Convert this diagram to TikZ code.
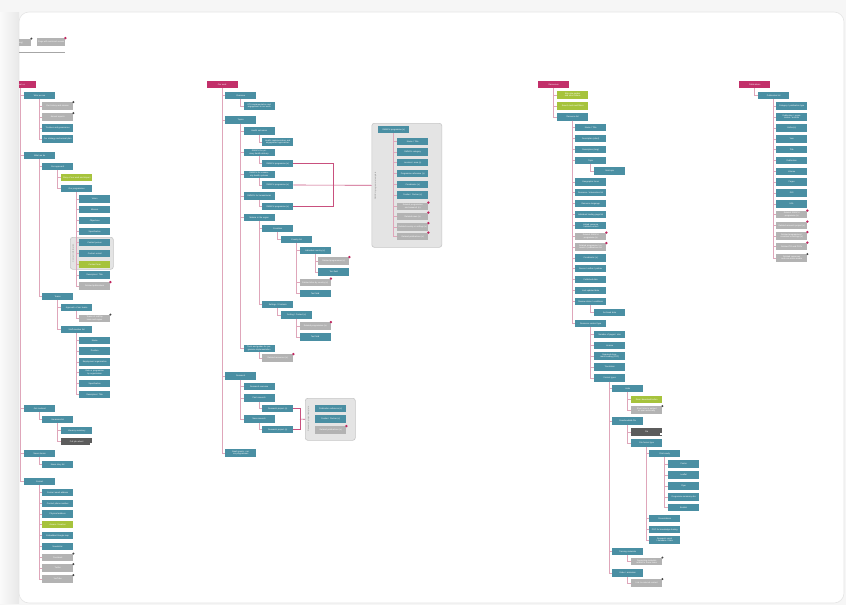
\documentclass[tikz,border=0pt]{standalone}
\usepackage{fontspec}
\setmainfont{Liberation Sans}
\definecolor{tealc}{HTML}{4A8FA3}
\definecolor{pinkh}{HTML}{C2306A}
\definecolor{greenc}{HTML}{A6C33C}
\definecolor{greyc}{HTML}{B3B3B3}
\definecolor{darkc}{HTML}{5C5C5C}
\definecolor{treec}{HTML}{DFA6BA}
\definecolor{linkc}{HTML}{C9507E}
\definecolor{grpfill}{HTML}{E4E4E4}
\definecolor{grpline}{HTML}{C6C6C6}
\definecolor{dotpink}{HTML}{C0245E}
\definecolor{dotdark}{HTML}{444444}
\definecolor{bgc}{HTML}{F6F6F6}
\tikzset{
 nb/.style={rectangle, anchor=west, minimum width=31pt, minimum height=7.5pt, inner sep=0.3pt, text width=29pt, align=center, text=white, font=\fontsize{2.1}{2.4}\selectfont},
 tl/.style={nb, fill=tealc},
 gr/.style={nb, fill=greyc},
 gn/.style={nb, fill=greenc},
 dk/.style={nb, fill=darkc},
 hd/.style={nb, fill=pinkh},
 grp/.style={rectangle, anchor=north west, rounded corners=2.5pt, fill=grpfill, draw=grpline, line width=0.6pt, inner sep=0},
 grptext/.style={rotate=90, text=black!45, font=\fontsize{2.1}{2.4}\selectfont},
 tree/.style={draw=treec, line width=0.6pt},
 link/.style={draw=linkc, line width=0.6pt},
}
\newcommand\edg[2]{\draw[tree] (#1.south) |- (#2.west);}
\newcommand\pdt[1]{\fill[dotpink] (#1.north east) circle (1.3pt);}
\newcommand\kdt[1]{\fill[dotdark] (#1.north east) circle (1.1pt);}
\newcommand\icn[1]{\fill[white] ([shift={(-2.6pt,0.9pt)}]#1.south east) rectangle ++(1.8pt,1.8pt);}
\begin{document}
\begin{tikzpicture}[x=1pt,y=-1pt]
\useasboundingbox (0,0) rectangle (846,605);
\fill[bgc] (0,0) rectangle (846,605);
\shade[left color=black!2, right color=black!9] (0,12) rectangle (19,603);
\draw[fill=white, draw=black!10, line width=0.6pt, rounded corners=10pt] (19,12) rectangle (844,603);
\begin{scope}
\clip[rounded corners=10pt] (19,12) rectangle (844,603);
% ---------- legend ----------
\node[gr] (L1) at (0,42.5) {Page (existing)};
\node[gr, minimum width=28pt, text width=26pt] (L2) at (37,42) {Page with restricted access};
\kdt{L1} \pdt{L2}
\coordinate (LL) at (0,52); \coordinate (LR) at (65,52);
\draw[draw=black!35, line width=0.8pt] (LL) -- (LR);
% ---------- column 1 ----------
\node[hd] (H1) at (5,84.5) {About us};
\node[tl] (A1) at (24,95.5) {Who we are};
\node[gr] (A1a) at (42,106) {Our history and mission};
\node[gr] (A1b) at (42,117) {Annual reports};
\node[tl] (A1c) at (42,128) {Trustees and governance};
\node[tl] (A1d) at (42,139) {Our strategy and annual plan};
\kdt{A1a} \kdt{A1b}
\node[tl] (A2) at (24,155.5) {What we do};
\node[tl] (A2a) at (42,166.5) {Our approach};
\node[gn] (A2a1) at (61,177.5) {Story of our work and impact};
\node[tl] (A2a2) at (61,188.5) {Our programmes};
\node[grp, minimum width=43pt, minimum height=32pt] (G0) at (70,237) {};
\node[grptext] (G0t) at (73,253) {Contact information};
\node[tl] (P1) at (79,199) {Vision};
\node[tl] (P2) at (79,209.5) {Mission};
\node[tl] (P3) at (79,220.5) {Objectives};
\node[tl] (P4) at (79,231.5) {Specification};
\node[tl] (P5) at (79,242.5) {Contact person};
\node[tl] (P6) at (79,253.5) {Contact e-mail};
\node[gn] (P7) at (79,264.5) {Contact form};
\node[tl] (P8) at (79,275) {Description / Title};
\node[gr] (P9) at (79,286) {Related publications};
\pdt{P9}
\node[tl] (A2b) at (42,296.5) {Teams};
\node[tl] (A2b1) at (61,307.5) {Approach of our teams};
\node[gr] (A2b1a) at (79,318.5) {Teams of staff by team and region};
\kdt{A2b1a}
\node[tl] (A2b2) at (61,329.5) {Staff member list};
\node[tl] (Q1) at (79,340.5) {Name};
\node[tl] (Q2) at (79,351) {Position};
\node[tl] (Q3) at (79,362) {Employment organisation};
\node[tl] (Q4) at (79,372.5) {Role or programme by organisation};
\node[tl] (Q5) at (79,383.5) {Specification};
\node[tl] (Q6) at (79,394.5) {Description / Title};
\node[tl] (A3) at (24,408.5) {Get involved};
\node[tl] (A3a) at (42,419.5) {Vacancies list};
\node[tl] (A3a1) at (61,430.5) {Vacancy summary};
\node[dk] (A3a2) at (61,441.5) {Full job advert};
\icn{A3a2}
\node[tl] (A4) at (24,453.5) {News stories};
\node[tl] (A4a) at (42,464.5) {News story list};
\node[tl] (A5) at (24,481.5) {Contact};
\node[tl] (K1) at (42,492.5) {Contact email address};
\node[tl] (K2) at (42,503.5) {Contact phone number};
\node[tl] (K3) at (42,514) {Physical address};
\node[gn] (K4) at (42,524.5) {Access / location};
\node[tl] (K5) at (42,535.5) {Embedded Google map};
\node[tl] (K6) at (42,546.5) {Newsletter};
\node[gr] (K7) at (42,557.5) {Facebook};
\node[gr] (K8) at (42,568) {Twitter};
\node[gr] (K9) at (42,579) {YouTube};
\kdt{K7} \kdt{K8} \kdt{K9}
\foreach \c in {A1,A2,A3,A4,A5} {\edg{H1}{\c}}
\foreach \c in {A1a,A1b,A1c,A1d} {\edg{A1}{\c}}
\edg{A2}{A2a} \edg{A2}{A2b}
\edg{A2a}{A2a1} \edg{A2a}{A2a2}
\foreach \c in {P1,P2,P3,P4,P5,P6,P7,P8,P9} {\edg{A2a2}{\c}}
\edg{A2b}{A2b1} \edg{A2b}{A2b2} \edg{A2b1}{A2b1a}
\foreach \c in {Q1,Q2,Q3,Q4,Q5,Q6} {\edg{A2b2}{\c}}
\edg{A3}{A3a} \edg{A3a}{A3a1} \edg{A3a}{A3a2}
\edg{A4}{A4a}
\foreach \c in {K1,K2,K3,K4,K5,K6,K7,K8,K9} {\edg{A5}{\c}}
% ---------- column 2 ----------
\node[hd] (H2) at (206.5,84.5) {Our work};
\node[tl] (B1) at (225,95.5) {Overview};
\node[tl] (B1a) at (243.5,106) {KTS implementation and engagement in our work};
\node[tl] (B2) at (225,120) {Topics};
\node[tl] (B2a) at (243.5,131) {Health outcomes};
\node[tl] (B2a1) at (262,142) {Health implementation and engagement approaches};
\node[tl] (B2b) at (243.5,152.5) {RMNCH for primary health delivery};
\node[tl] (B2b1) at (262,163.5) {RMNCH programme (x)};
\node[tl] (B2c) at (243.5,174.5) {RMNCH for community health systems};
\node[tl] (B2c1) at (262,185) {RMNCH programme (x)};
\node[tl] (B2d) at (243.5,196) {RMNCH for humanitarian};
\node[tl] (B2d1) at (262,206.5) {RMNCH programme (x)};
\node[tl] (B2e) at (243.5,217.5) {Malaria in the region};
\node[tl] (B2e1) at (262,228.5) {Countries};
\node[tl] (B2e1a) at (281,239.5) {Country list};
\node[tl] (B2e1a1) at (299.5,250.5) {Individual country (x)};
\node[gr] (B2e1a1a) at (318,261) {Related programmes (x)};
\node[tl] (B2e1a1b) at (318,272) {Text field};
\node[gr] (B2e1b) at (299.5,282.5) {Related sites by country (x)};
\node[tl] (B2e1c) at (299.5,293.5) {Text field};
\node[tl] (B2e2) at (262,304.5) {Settings / Contexts};
\node[tl] (B2e2a) at (281,315) {Setting / Context (x)};
\node[gr] (B2e2a1) at (299.5,326) {Related programmes (x)};
\node[tl] (B2e2a2) at (299.5,337) {Text field};
\node[tl] (B2f) at (243.5,348.5) {Tools and guides for programme implementation};
\node[gr] (B2f1) at (262,358) {Related resources (x)};
\pdt{B2e1a1a} \pdt{B2e1b} \pdt{B2e2a1} \pdt{B2f1}
\node[tl] (B3) at (225,376) {Research};
\node[tl] (B3a) at (243.5,386.5) {Research overview};
\node[tl] (B3b) at (243.5,398) {Past research};
\node[tl] (B3b1) at (262,408.5) {Research project (x)};
\node[tl] (B3c) at (243.5,419) {New research};
\node[tl] (B3c1) at (262,429.5) {Research project (x)};
\node[tl] (B4) at (225,453) {Small grants + micro programmes};
\foreach \c in {B1,B2,B3,B4} {\edg{H2}{\c}}
\edg{B1}{B1a}
\foreach \c in {B2a,B2b,B2c,B2d,B2e,B2f} {\edg{B2}{\c}}
\edg{B2a}{B2a1} \edg{B2b}{B2b1} \edg{B2c}{B2c1} \edg{B2d}{B2d1}
\edg{B2e}{B2e1} \edg{B2e}{B2e2}
\edg{B2e1}{B2e1a}
\edg{B2e1a}{B2e1a1} \edg{B2e1a}{B2e1b} \edg{B2e1a}{B2e1c}
\edg{B2e1a1}{B2e1a1a} \edg{B2e1a1}{B2e1a1b}
\edg{B2e2}{B2e2a} \edg{B2e2a}{B2e2a1} \edg{B2e2a}{B2e2a2}
\edg{B2f}{B2f1}
\foreach \c in {B3a,B3b,B3c} {\edg{B3}{\c}}
\edg{B3b}{B3b1} \edg{B3c}{B3c1}
% group G1
\node[grp, minimum width=70pt, minimum height=124pt] (G1) at (371.5,123) {};
\node[grptext] (G1t) at (375.5,186) {RMNCH programme template};
\node[tl] (M0) at (378,129.5) {RMNCH programme (x)};
\node[tl] (M1) at (397,141.5) {Name / Title};
\node[tl] (M2) at (397,152) {RMNCH category};
\node[tl] (M3) at (397,162.5) {Location / area (x)};
\node[tl] (M4) at (397,173.5) {Programme reference (x)};
\node[tl] (M5) at (397,184.5) {Coordinator (x)};
\node[tl] (M6) at (397,195) {Funder / Partner (x)};
\node[gr] (M7) at (397,206.5) {Related programmes and research (x)};
\node[gr] (M8) at (397,216.5) {Related news (x)};
\node[gr] (M9) at (397,227) {Related country or settings (x)};
\node[gr] (M10) at (397,236.5) {Related publications (x)};
\pdt{M7} \pdt{M8} \pdt{M9} \pdt{M10}
\foreach \c in {M1,M2,M3,M4,M5,M6,M7,M8,M9,M10} {\edg{M0}{\c}}
\coordinate (J1) at (333,185);
\draw[link] (B2b1.east) -| (J1);
\draw[link] (B2d1.east) -| (J1);
\draw[link] (B2c1.east) -- (G1.west);
% group G2
\node[grp, minimum width=50pt, minimum height=42pt] (G2) at (305,398) {};
\node[grptext] (G2t) at (308.5,419) {Research project template};
\node[tl] (N1) at (315,408.5) {Publication reference (x)};
\node[tl] (N2) at (315,419) {Funder / Partner (x)};
\node[gr] (N3) at (315,430) {Related publications (x)};
\pdt{N3}
\coordinate (J2) at (300,419);
\draw[link] (B3b1.east) -| (J2);
\draw[link] (B3c1.east) -| (J2);
\draw[link] (J2) -- (G2.west);
% ---------- column 3 ----------
\node[hd] (H3) at (538,84.5) {Resources};
\node[gn] (C1) at (557,95) {Bite-size guides and short videos};
\node[gn] (C2) at (557,106) {Search tools and filters};
\node[tl] (C3) at (557,117) {Resource list};
\node[tl] (R1) at (575,127.5) {Name / Title};
\node[tl] (R2) at (575,138.5) {Description (short)};
\node[tl] (R3) at (575,149.5) {Description (long)};
\node[tl] (R4) at (575,160.5) {Topic};
\node[tl] (R4a) at (594,171) {Sub-topic};
\node[tl] (R5) at (575,182) {Geographic focus};
\node[tl] (R6) at (575,192.5) {Resource / intervention list};
\node[tl] (R7) at (575,203.5) {Resource language};
\node[tl] (R8) at (575,214.5) {Individual landing page list};
\node[tl] (R9) at (575,225.5) {Linked resource / related content};
\node[gr] (R10) at (575,236.5) {Related RMNCH programme (x)};
\node[gr] (R11) at (575,247) {Related programme / research / publications list};
\pdt{R10} \pdt{R11}
\node[tl] (R12) at (575,258) {Coordinator (x)};
\node[tl] (R13) at (575,268.5) {Source / author / partner};
\node[tl] (R14) at (575,279.5) {Published date};
\node[tl] (R15) at (575,290.5) {Last updated date};
\node[tl] (R16) at (575,301.5) {Review status / conditions};
\node[tl] (R16a) at (594,312.5) {Archived date};
\node[tl] (R17) at (575,323.5) {Resource content type};
\node[tl] (S1) at (594,334.5) {Number of pages / size};
\node[tl] (S2) at (594,345.5) {Licence};
\node[tl] (S3) at (594,356) {Required document reading (PDF)};
\node[tl] (S4) at (594,367) {Translation};
\node[tl] (S5) at (594,378) {Format types};
\node[tl] (T1) at (612,388.5) {Links};
\node[gn] (T1a) at (631,399.5) {Direct download button};
\node[gr] (T1b) at (631,410) {Short links to embed or open externally};
\kdt{T1b}
\node[tl] (T2) at (612,421) {Downloadable file};
\node[dk] (T2a) at (631,432) {File};
\icn{T2a}
\node[tl] (T2b) at (631,443) {File format type};
\node[tl] (U1) at (649,453.5) {Print-ready};
\node[tl] (U1a) at (668,464) {Poster};
\node[tl] (U1b) at (668,475) {Leaflet};
\node[tl] (U1c) at (668,486) {Flyer};
\node[tl] (U1d) at (668,497) {Programme summary doc};
\node[tl] (U1e) at (668,507.5) {Booklet};
\node[tl] (U2) at (649,518.5) {Presentations};
\node[tl] (U3) at (649,529.5) {PDF for knowledge sharing};
\node[tl] (U4) at (649,540) {Research report / database / data};
\node[tl] (T3) at (612,551.5) {Training materials};
\node[gr] (T3a) at (631,561.5) {Supporting materials related to these items};
\node[tl] (T4) at (612,573) {Video / animation};
\node[gr] (T4a) at (631,583) {Link to external content};
\kdt{T3a} \kdt{T4a}
\foreach \c in {C1,C2,C3} {\edg{H3}{\c}}
\foreach \c in {R1,R2,R3,R4,R5,R6,R7,R8,R9,R10,R11,R12,R13,R14,R15,R16,R17} {\edg{C3}{\c}}
\edg{R4}{R4a} \edg{R16}{R16a}
\foreach \c in {S1,S2,S3,S4,S5} {\edg{R17}{\c}}
\foreach \c in {T1,T2,T3,T4} {\edg{S5}{\c}}
\edg{T1}{T1a} \edg{T1}{T1b}
\edg{T2}{T2a} \edg{T2}{T2b}
\foreach \c in {U1,U2,U3,U4} {\edg{T2b}{\c}}
\foreach \c in {U1a,U1b,U1c,U1d,U1e} {\edg{U1}{\c}}
\edg{T3}{T3a} \edg{T4}{T4a}
% ---------- column 4 ----------
\node[hd] (H4) at (739,84.5) {Publications};
\node[tl] (D1) at (758,95.5) {Publication list};
\node[tl] (E1) at (776,106) {Category / publication type};
\node[tl] (E2) at (776,117) {Publication / organisation / authors};
\node[tl] (E3) at (776,128) {Author(s)};
\node[tl] (E4) at (776,139) {Year};
\node[tl] (E5) at (776,149.5) {Title};
\node[tl] (E6) at (776,160.5) {Publication};
\node[tl] (E7) at (776,171.5) {Volume};
\node[tl] (E8) at (776,182) {Pages};
\node[tl] (E9) at (776,193) {DOI};
\node[tl] (E10) at (776,204) {URL};
\node[gr] (E11) at (776,214.5) {Related RMNCH programme (x)};
\node[gr] (E12) at (776,225.5) {Related research project (x)};
\node[gr] (E13) at (776,236) {Related programmes / countries or settings (x)};
\node[gr] (E14) at (776,246.5) {Related TO and PDFs};
\node[gr] (E15) at (776,258) {Related resources and non-article media};
\pdt{E11} \pdt{E12} \pdt{E13} \pdt{E14} \kdt{E15}
\edg{H4}{D1}
\foreach \c in {E1,E2,E3,E4,E5,E6,E7,E8,E9,E10,E11,E12,E13,E14,E15} {\edg{D1}{\c}}
\end{scope}
\end{tikzpicture}
\end{document}
